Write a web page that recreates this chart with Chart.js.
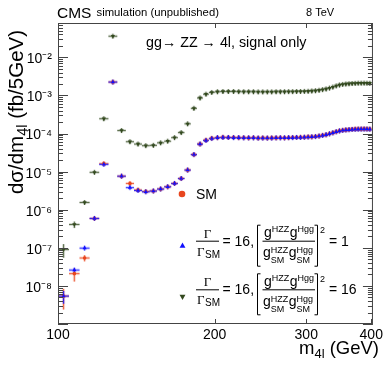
<!DOCTYPE html>
<html><head><meta charset="utf-8">
<script src="https://cdn.jsdelivr.net/npm/chart.js@4/dist/chart.umd.min.js"></script>
<style>html,body{margin:0;padding:0;background:#fff;}#wrap{position:relative;width:386px;height:365px;}</style>
</head><body><div id="wrap"><canvas id="c" width="386" height="365"></canvas></div>
<script>
// ---------- data ----------
const massBins = [102.5,107.5,112.5,117.5,122.5,127.5,132.5,137.5,142.5,147.5,152.5,157.5,162.5,167.5,172.5,177.5,182.5,187.5,192.5,197.5,
  202.5,207.5,212.5,217.5,222.5,227.5,232.5,237.5,242.5,247.5,252.5,257.5,262.5,267.5,272.5,277.5,282.5,287.5,292.5,297.5,
  302.5,307.5,312.5,317.5,322.5,327.5,332.5,337.5,342.5,347.5,352.5,357.5,362.5,367.5,372.5,377.5,382.5,387.5,392.5,397.5];
const binWidth = 5;
const smValues = [5.4e-9,2.1e-8,5.4e-8,5.9e-7,1.62e-5,2.25e-3,7.6e-6,4.9e-6,3.3e-6,3.0e-6,3.1e-6,3.5e-6,4.0e-6,4.9e-6,6.6e-6,1.1e-5,2.8e-5,5.3e-5,6.7e-5,7.5e-5,
  7.8e-5,8.0e-5,7.9e-5,7.9e-5,7.8e-5,7.8e-5,7.7e-5,7.8e-5,7.6e-5,7.7e-5,7.6e-5,7.7e-5,7.7e-5,7.8e-5,7.7e-5,7.8e-5,7.9e-5,7.9e-5,8.0e-5,8.0e-5,
  8.2e-5,8.2e-5,8.4e-5,8.6e-5,9.0e-5,9.3e-5,9.9e-5,1.05e-4,1.12e-4,1.18e-4,1.22e-4,1.25e-4,1.27e-4,1.29e-4,1.31e-4,1.32e-4,1.32e-4,1.33e-4,1.32e-4,1.31e-4];
const w16c1Values = [5.4e-9,2.6e-8,9.8e-8,5.9e-7,1.55e-5,2.25e-3,7.6e-6,3.8e-6,3.2e-6,2.95e-6,3.1e-6,3.5e-6,4.0e-6,4.9e-6,6.6e-6,1.1e-5,2.8e-5,5.3e-5,6.6e-5,7.4e-5,
  7.8e-5,7.9e-5,7.9e-5,7.8e-5,7.8e-5,7.7e-5,7.7e-5,7.7e-5,7.6e-5,7.6e-5,7.6e-5,7.6e-5,7.7e-5,7.7e-5,7.7e-5,7.8e-5,7.8e-5,7.9e-5,7.9e-5,8.0e-5,
  8.1e-5,8.2e-5,8.3e-5,8.6e-5,8.9e-5,9.3e-5,9.8e-5,1.04e-4,1.11e-4,1.17e-4,1.21e-4,1.24e-4,1.26e-4,1.28e-4,1.29e-4,1.30e-4,1.31e-4,1.31e-4,1.31e-4,1.30e-4];
const w16c16Values = [9.0e-8,4.1e-7,1.55e-6,9.6e-6,2.45e-4,3.6e-2,1.2e-4,6.1e-5,5.3e-5,4.8e-5,4.9e-5,5.7e-5,6.3e-5,7.8e-5,1.06e-4,1.8e-4,4.6e-4,8.6e-4,1.08e-3,1.2e-3,
  1.25e-3,1.27e-3,1.27e-3,1.27e-3,1.26e-3,1.25e-3,1.25e-3,1.25e-3,1.24e-3,1.24e-3,1.24e-3,1.24e-3,1.25e-3,1.25e-3,1.25e-3,1.26e-3,1.26e-3,1.27e-3,1.27e-3,1.28e-3,
  1.29e-3,1.31e-3,1.33e-3,1.37e-3,1.42e-3,1.48e-3,1.56e-3,1.66e-3,1.78e-3,1.88e-3,1.95e-3,2.0e-3,2.03e-3,2.06e-3,2.08e-3,2.1e-3,2.1e-3,2.11e-3,2.1e-3,2.09e-3];
// vertical statistical errors of the first bins (later bins negligible)
const smErrors = [3.0e-9,8e-9,1.0e-8,5e-8];
const w16c1Errors = [2.0e-9,4e-9,8e-9,4e-8];
const w16c16Errors = [3.5e-8,8e-8,1.5e-7,6e-7];
const xTickValues = [100,200,300,400];
const xTickLabels = ['100','200','300','400'];
const yTickValues = [1e-8,1e-7,1e-6,1e-5,1e-4,1e-3,1e-2];
const yTickLabels = ['10\u207B\u2078','10\u207B\u2077','10\u207B\u2076','10\u207B\u2075','10\u207B\u2074','10\u207B\u00B3','10\u207B\u00B2'];

// ---------- style ----------
const SANS = "'Liberation Sans', Arial, Helvetica, sans-serif";
const SERIF = "'Liberation Serif', 'Times New Roman', serif";
const RED = '#e8461e', BLUE = '#1010ff', GREEN = '#33491f';

function pts(vals){ return massBins.map((m,i)=>({x:m, y:vals[i]})); }

const errorBarsPlugin = {
  id:'errbars',
  beforeDatasetsDraw(chart){
    const {ctx, chartArea:a} = chart; const xs = chart.scales.x, ys = chart.scales.y;
    ctx.save(); ctx.beginPath(); ctx.rect(a.left, a.top, a.right-a.left, a.bottom-a.top); ctx.clip();
    chart.data.datasets.forEach(ds => {
      const errs = ds.yErrors || [];
      ds.data.forEach((p, j) => {
        const xl = xs.getPixelForValue(p.x - binWidth/2), xr = xs.getPixelForValue(p.x + binWidth/2);
        const xc = xs.getPixelForValue(p.x), yc = ys.getPixelForValue(p.y);
        const e = errs[j] || 0;
        let yt = yc - 2.5, yb = yc + 2.5;
        if (e > 0) { yt = Math.min(yt, ys.getPixelForValue(p.y + e)); yb = Math.max(yb, ys.getPixelForValue(Math.max(p.y - e, 1e-12))); }
        ctx.fillStyle = ds.haloColor;
        ctx.fillRect(xl, yc-1.5, xr-xl, 3);
        ctx.fillRect(xc-1.5, yt, 3, yb-yt);
        ctx.strokeStyle = ds.barColor; ctx.lineWidth = 1;
        ctx.beginPath(); ctx.moveTo(xl, yc); ctx.lineTo(xr, yc); ctx.moveTo(xc, yt); ctx.lineTo(xc, yb); ctx.stroke();
      });
    });
    ctx.restore();
  }
};

function t(ctx, s, x, y, size, family, align){
  ctx.font = size + 'px ' + (family || SANS); ctx.textAlign = align || 'left'; ctx.textBaseline = 'alphabetic';
  ctx.fillText(s, x, y); return ctx.measureText(s).width;
}
function wid(ctx, s, size, family){ ctx.font = size + 'px ' + (family || SANS); return ctx.measureText(s).width; }

function drawFormula(ctx, cy, rhs){
  ctx.fillStyle = '#000'; ctx.strokeStyle = '#000'; ctx.lineWidth = 1;
  // Gamma / Gamma_SM
  ctx.beginPath(); ctx.moveTo(196, cy+0.5); ctx.lineTo(219, cy+0.5); ctx.stroke();
  t(ctx, '\u0393', 207.5, cy-3, 13, SERIF, 'center');
  const gw = t(ctx, '\u0393', 197, cy+15, 13, SERIF);
  t(ctx, 'SM', 197+gw+0.5, cy+17, 10);
  t(ctx, '= 16,', 222.5, cy+5, 14);
  // brackets
  const top = cy-15.5, bot = cy+25.5;
  ctx.beginPath();
  ctx.moveTo(260.5, top); ctx.lineTo(257.5, top); ctx.lineTo(257.5, bot); ctx.lineTo(260.5, bot);
  ctx.moveTo(314.5, top); ctx.lineTo(317.5, top); ctx.lineTo(317.5, bot); ctx.lineTo(314.5, bot);
  ctx.stroke();
  // numerator
  let x = 264;
  x += t(ctx, 'g', x, cy-3.5, 14);
  x += t(ctx, 'HZZ', x, cy-8.5, 9) + 0.5;
  x += t(ctx, 'g', x, cy-3.5, 14);
  t(ctx, 'Hgg', x, cy-8.5, 9);
  // fraction line
  ctx.beginPath(); ctx.moveTo(262.5, cy+0.5); ctx.lineTo(315, cy+0.5); ctx.stroke();
  // denominator
  x = 263;
  x += t(ctx, 'g', x, cy+16.5, 14);
  let w1 = t(ctx, 'HZZ', x, cy+12.5, 9); let w2 = t(ctx, 'SM', x, cy+22.5, 9);
  x += Math.max(w1, w2) + 0.5;
  x += t(ctx, 'g', x, cy+16.5, 14);
  t(ctx, 'Hgg', x, cy+12.5, 9); t(ctx, 'SM', x, cy+22.5, 9);
  // square
  t(ctx, '2', 320, cy-7.5, 9);
  t(ctx, rhs, 329, cy+5, 14);
}

const decorPlugin = {
  id:'decor',
  afterDraw(chart){
    const {ctx, chartArea:a} = chart; const xs = chart.scales.x, ys = chart.scales.y;
    ctx.save();
    // frame
    ctx.strokeStyle = '#444'; ctx.lineWidth = 1;
    ctx.strokeRect(a.left+0.5, a.top+0.5, a.right-a.left-1, a.bottom-a.top-1);
    // y ticks (log, inward, both sides)
    ctx.beginPath();
    for (let k = -9; k <= -1; k++) {
      for (let d = 1; d <= 9; d++) {
        const v = d * Math.pow(10, k);
        if (v < ys.min*0.999 || v > ys.max*1.001) continue;
        const py = Math.round(ys.getPixelForValue(v)) + 0.5;
        const len = d === 1 ? 10 : 5;
        ctx.moveTo(a.left, py); ctx.lineTo(a.left+len, py);
        ctx.moveTo(a.right, py); ctx.lineTo(a.right-len, py);
      }
    }
    xTickValues.forEach(v => {
      const px = Math.round(xs.getPixelForValue(v)) + 0.5;
      ctx.moveTo(px, a.bottom); ctx.lineTo(px, a.bottom-5);
      ctx.moveTo(px, a.top); ctx.lineTo(px, a.top+5);
    });
    ctx.stroke();

    ctx.fillStyle = '#000';
    // header
    t(ctx, 'CMS', 57, 17.5, 15.5);
    t(ctx, 'simulation (unpublished)', 96.5, 15.5, 11.3);
    t(ctx, '8 TeV', 306, 15.5, 11);
    t(ctx, 'gg\u2192 ZZ \u2192 4l, signal only', 146, 46.5, 14.3);
    // x title
    const xs1 = 18.5, xs2 = 13;
    const wTot = wid(ctx,'m',xs1) + wid(ctx,'4l',xs2) + wid(ctx,' (GeV)',xs1);
    let xx = 379 - wTot;
    xx += t(ctx, 'm', xx, 354, xs1);
    xx += t(ctx, '4l', xx, 358, xs2);
    t(ctx, ' (GeV)', xx, 354, xs1);
    // y title (rotated)
    ctx.save();
    const ys1 = 20.5, ys2 = 14.5;
    const yTot = wid(ctx,'d\u03C3/dm',ys1) + wid(ctx,'4l',ys2) + wid(ctx,' (fb/5GeV)',ys1);
    ctx.translate(23, 112 + yTot/2); ctx.rotate(-Math.PI/2);
    let yy = 0;
    yy += t(ctx, 'd\u03C3/dm', yy, 0, ys1);
    yy += t(ctx, '4l', yy, 4, ys2);
    t(ctx, ' (fb/5GeV)', yy, 0, ys1);
    ctx.restore();

    // legend
    const H = Chart.helpers;
    ctx.fillStyle = RED; ctx.strokeStyle = RED;
    H.drawPoint(ctx, {pointStyle:'circle', radius:3.3, rotation:0, borderWidth:0}, 182, 194);
    ctx.fillStyle = BLUE; ctx.strokeStyle = BLUE;
    H.drawPoint(ctx, {pointStyle:'triangle', radius:3.4, rotation:0, borderWidth:0}, 182.5, 246);
    ctx.fillStyle = GREEN; ctx.strokeStyle = GREEN;
    H.drawPoint(ctx, {pointStyle:'triangle', radius:3.4, rotation:180, borderWidth:0}, 182.5, 296.5);
    ctx.fillStyle = '#000';
    t(ctx, 'SM', 196, 199, 14);
    drawFormula(ctx, 240.7, '= 1');
    drawFormula(ctx, 289.3, '= 16');
    ctx.restore();
  }
};

new Chart(document.getElementById('c'), {
  type: 'scatter',
  data: { datasets: [
    { label:'SM', order:3, data: pts(smValues), yErrors: smErrors, pointStyle:'circle', pointRadius:1.8, pointRotation:0,
      backgroundColor: RED, borderColor: RED, borderWidth:0, haloColor:'rgba(240,110,80,0.28)', barColor:'rgba(232,70,30,0.8)' },
    { label:'\u0393/\u0393SM = 16, ratio = 1', order:2, data: pts(w16c1Values), yErrors: w16c1Errors, pointStyle:'triangle', pointRadius:2.4, pointRotation:0,
      backgroundColor: BLUE, borderColor: BLUE, borderWidth:0, haloColor:'rgba(90,90,255,0.28)', barColor:'rgba(16,16,255,0.8)' },
    { label:'\u0393/\u0393SM = 16, ratio = 16', order:1, data: pts(w16c16Values), yErrors: w16c16Errors, pointStyle:'triangle', pointRadius:2.4, pointRotation:180,
      backgroundColor: GREEN, borderColor: GREEN, borderWidth:0, haloColor:'rgba(110,130,100,0.28)', barColor:'rgba(51,73,31,0.75)' }
  ]},
  options: {
    responsive:false, animation:false, devicePixelRatio:1,
    layout:{ padding:{ top:23, right:11, left:0, bottom:0 } },
    plugins:{ legend:{display:false}, tooltip:{enabled:false} },
    scales:{
      x:{ type:'logarithmic', min:100, max:403, position:'bottom',
        afterFit(s){ s.height = 41; },
        afterBuildTicks(s){ s.ticks = xTickValues.map(v => ({value:v})); },
        grid:{ display:false, drawTicks:false }, border:{ display:false },
        ticks:{ autoSkip:false, maxRotation:0, padding:3, color:'#000', font:{ family:SANS, size:14 },
          callback:(v, i) => xTickLabels[i] }
      },
      y:{ type:'logarithmic', min:1e-9, max:0.08,
        afterFit(s){ s.width = 58; },
        afterBuildTicks(s){ s.ticks = yTickValues.map(v => ({value:v})); },
        grid:{ display:false, drawTicks:false }, border:{ display:false },
        ticks:{ autoSkip:false, padding:6, labelOffset:2, color:'#000', font:{ family:SANS, size:14 },
          callback:(v, i) => yTickLabels[i] }
      }
    }
  },
  plugins:[errorBarsPlugin, decorPlugin]
});
</script></body></html>
